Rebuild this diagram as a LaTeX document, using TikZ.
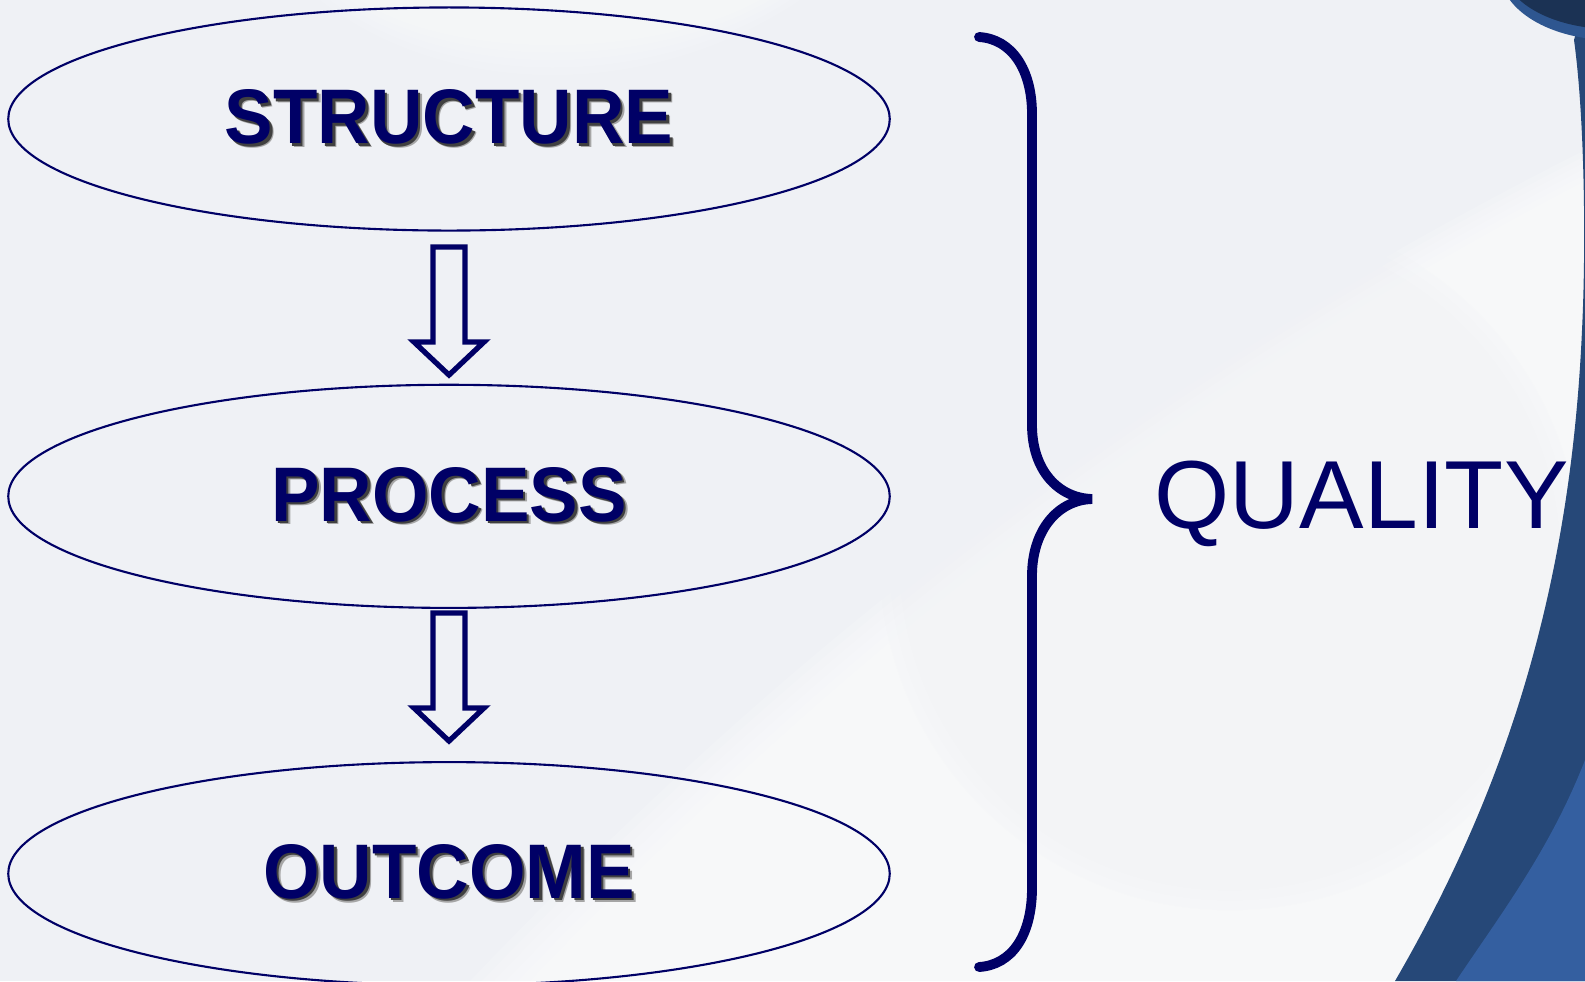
\documentclass[tikz,border=0pt]{standalone}
\usepackage{fontspec}
\setmainfont{Liberation Sans}
\newfontfamily\labelfont[FakeStretch=0.94]{Liberation Sans}
\usetikzlibrary{positioning,shapes.geometric}

\definecolor{navy}{HTML}{000066}
\definecolor{slidebg}{HTML}{EFF1F5}
\definecolor{bandblue}{HTML}{264878}
\definecolor{skyblue}{HTML}{345FA0}

% drop shadow under the box titles
\newcommand\shadowtext[1]{%
  \makebox[0pt][l]{\kern1.1pt\raisebox{-1.1pt}{\textcolor{black!35}{#1}}}%
  \makebox[0pt][l]{\kern0.7pt\raisebox{-0.7pt}{\textcolor{black!75}{#1}}}#1}

\tikzset{
  stage/.style={ellipse, draw=navy, line width=0.6pt, minimum width=8.81cm,
    minimum height=2.23cm, inner sep=0pt, text=navy,
    font=\labelfont\bfseries\fontsize{22}{26}\selectfont},
  flowarrow/.style={draw=navy, line width=1.5pt, line join=miter},
  brace/.style={draw=navy, line width=2.8pt, line cap=round}
}

\begin{document}
\begin{tikzpicture}[x=0.01cm, y=-0.01cm]
\useasboundingbox (0,0) rectangle (1585,981);

% backdrop, soft white swoosh built up in layers
\fill[slidebg] (0,0) rectangle (1585,981);
\foreach \d in {0,12,...,60}
  \fill[white, opacity=.15, xshift=\d*0.01cm] (470,981) .. controls (720,720) and (1050,420) .. (1585,150) -- (1585,981) -- cycle;
\foreach \d in {0,10,...,40}
  \fill[white, opacity=.12] (360-\d,0) .. controls (450,60+\d) and (650,60+\d) .. (760+\d,0) -- cycle;
\foreach \r in {3.5,3.4,3.3}
  \fill[slidebg, opacity=.15] (1230,560) circle (\r cm);
\fill[bandblue] (1574,40) .. controls (1585,120) and (1586,250) .. (1582,330)
  .. controls (1570,600) and (1500,800) .. (1395,981) -- (1585,981) -- (1585,0) -- cycle;
\fill[skyblue] (1585,760) .. controls (1550,850) and (1500,915) .. (1456,981) -- (1585,981) -- cycle;
\fill[skyblue!60!bandblue] (1612,-28) ellipse (1.12cm and 0.68cm);
\fill[bandblue!70!black] (1612,-33) ellipse (1.09cm and 0.62cm);
\fill[skyblue, opacity=.6] (1640,-40) ellipse (0.7cm and 0.4cm);

% the three stages
\node[stage] (struct) at (449,119) {\shadowtext{STRUCTURE}};
\node[stage, below=1.52cm of struct] (proc) {\shadowtext{PROCESS}};
\node[stage, below=1.52cm of proc] (outc) {\shadowtext{OUTCOME}};

% hollow arrows between them
\foreach \t in {247,613}
  \draw[flowarrow] (433,\t) -- (465,\t) -- (465,\t+95) -- (484,\t+95) -- (449,\t+128)
    -- (414,\t+95) -- (433,\t+95) -- cycle;

% brace and its label
\draw[brace] (979,37) .. controls (1012,39) and (1032,70) .. (1032,114) -- (1032,425)
  .. controls (1032,470) and (1058,498) .. (1092,499)
  .. controls (1058,500) and (1032,530) .. (1032,576) -- (1032,888)
  .. controls (1032,935) and (1012,965) .. (979,967);
\node[anchor=base west, inner sep=0pt, text=navy, font=\fontsize{27.5}{32}\selectfont]
  (qual) at (1154,528) {QUALITY};
\end{tikzpicture}
\end{document}
